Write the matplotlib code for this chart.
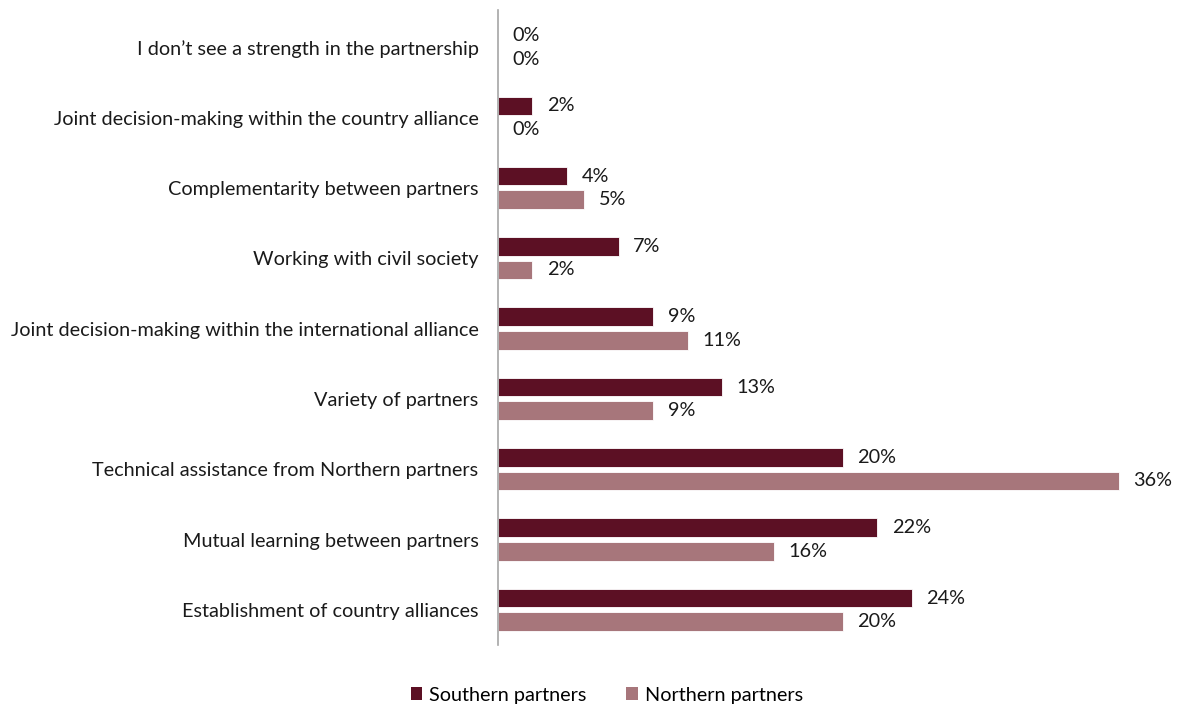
import matplotlib
matplotlib.use("Agg")
import matplotlib.pyplot as plt
from matplotlib.patches import Patch

categories = [
    "I don\u2019t see a strength in the partnership",
    "Joint decision-making within the country alliance",
    "Complementarity between partners",
    "Working with civil society",
    "Joint decision-making within the international alliance",
    "Variety of partners",
    "Technical assistance from Northern partners",
    "Mutual learning between partners",
    "Establishment of country alliances",
]
southern = [0, 2, 4, 7, 9, 13, 20, 22, 24]
northern = [0, 0, 5, 2, 11, 9, 36, 16, 20]
series_names = ["Southern partners", "Northern partners"]
colors = ["#5C1024", "#A7767B"]

plt.rcParams["font.family"] = ["Lato", "DejaVu Sans"]

W, H = 1180, 706
fig = plt.figure(figsize=(W / 100, H / 100), dpi=100)
ax = fig.add_axes([498 / W, 1 - 645 / H, (1162 - 498) / W, (645 - 10) / H])

ys = list(range(len(categories)))
bar_h = 0.265
off = 0.167
fs = 14.3

for vals, col, sign in [(southern, colors[0], -1), (northern, colors[1], 1)]:
    pos = [y + sign * off for y in ys]
    ax.barh(pos, vals, height=bar_h, color=col, edgecolor="white", linewidth=0.6)
    for p, v in zip(pos, vals):
        ax.annotate(f"{v}%", xy=(v, p), xytext=(10.5, 0), textcoords="offset points",
                    va="center", ha="left", fontsize=fs, color="#1a1a1a")

ax.set_xlim(0, 38.5)
ax.set_ylim(8.5, -0.53)
ax.set_yticks(ys)
ax.set_yticklabels(categories, fontsize=fs, color="#1a1a1a")
ax.tick_params(axis="y", length=0, pad=14)
ax.set_xticks([])
for s in ["top", "right", "bottom"]:
    ax.spines[s].set_visible(False)
ax.spines["left"].set_color("#a6a6a6")
ax.spines["left"].set_linewidth(1.2)

handles = [Patch(facecolor=c, edgecolor="none") for c in colors]
fig.legend(handles, series_names, loc="center", bbox_to_anchor=(607 / W, 1 - 695 / H),
           ncol=2, frameon=False, fontsize=fs, handlelength=0.6, handleheight=0.6,
           handletextpad=0.35, columnspacing=2.0)

fig.savefig("out.png", dpi=100)
